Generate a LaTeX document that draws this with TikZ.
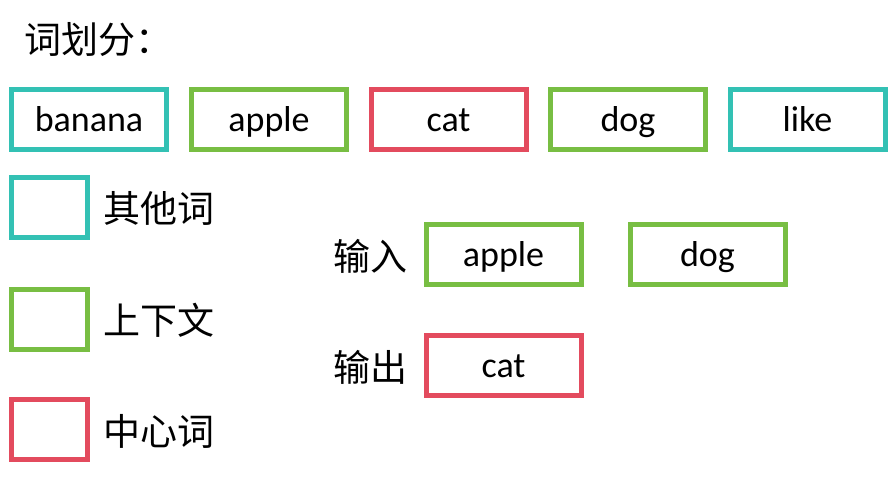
\documentclass[tikz,border=0pt]{standalone}
\usepackage{fontspec}
\setmainfont{Carlito}
\newfontfamily\cjk{Noto Sans CJK SC}
\definecolor{teal1}{RGB}{51,193,180}
\definecolor{green1}{RGB}{120,190,67}
\definecolor{red1}{RGB}{227,75,94}
\begin{document}
\begin{tikzpicture}[x=1pt,y=-1pt,
  wbox/.style={draw, line width=5pt, minimum width=155pt, minimum height=60pt, inner sep=0pt,
    text height=24pt, text depth=0pt, text=black,
    font=\fontsize{36}{42}\selectfont},
  lbox/.style={draw, line width=5pt, minimum width=76pt, minimum height=60pt, inner sep=0pt},
  ctext/.style={inner sep=0pt, font=\cjk\fontsize{37}{44}\selectfont}]
\useasboundingbox (0,0) rectangle (890,476);
\node[ctext, anchor=west] (title) at (24,40) {词划分：};
\node[wbox, draw=teal1] (w1) at (89,119.5) {banana};
\node[wbox, draw=green1] (w2) at (269,119.5) {apple};
\node[wbox, draw=red1] (w3) at (448.5,119.5) {cat};
\node[wbox, draw=green1] (w4) at (628,119.5) {dog};
\node[wbox, draw=teal1] (w5) at (807.5,119.5) {like};
\node[lbox, draw=teal1] (l1) at (49.5,207.5) {};
\node[lbox, draw=green1] (l2) at (49.5,319.5) {};
\node[lbox, draw=red1] (l3) at (49.5,429.5) {};
\node[ctext, anchor=west] (t1) at (103,208) {其他词};
\node[ctext, anchor=west] (t2) at (103,320) {上下文};
\node[ctext, anchor=west] (t3) at (103,431) {中心词};
\node[ctext] (in) at (370,256) {输入};
\node[ctext] (out) at (370,367) {输出};
\node[wbox, draw=green1] (i1) at (503.5,254.5) {apple};
\node[wbox, draw=green1] (i2) at (707.5,254.5) {dog};
\node[wbox, draw=red1] (o1) at (503.5,365.5) {cat};
\end{tikzpicture}
\end{document}
